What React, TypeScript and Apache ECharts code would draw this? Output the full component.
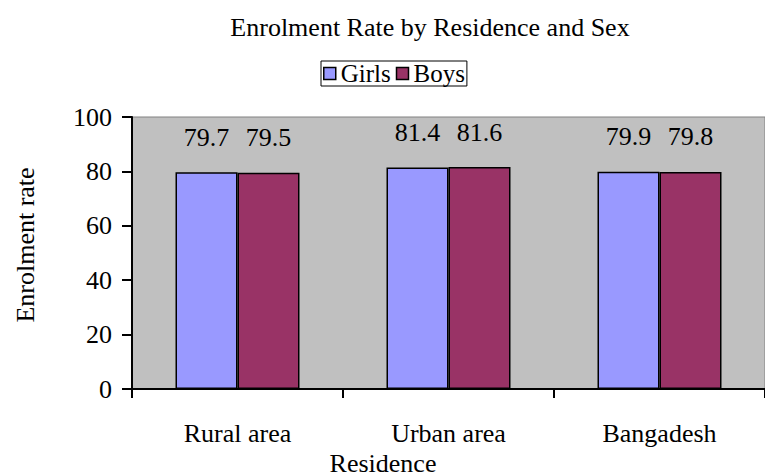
import React, { useEffect, useRef } from "react";
import * as echarts from "echarts";

const categories = ["Rural area", "Urban area", "Bangadesh"];
const girls = [79.7, 81.4, 79.9];
const boys = [79.5, 81.6, 79.8];
const yTicks = [0, 20, 40, 60, 80, 100];

const FONT = "Liberation Serif";

export default function App() {
  const ref = useRef<HTMLDivElement>(null);
  useEffect(() => {
    if (!ref.current) return;
    const chart = echarts.init(ref.current, undefined, { renderer: "svg" });
    const labelCfg = {
      show: true,
      position: "top" as const,
      distance: 22,
      fontFamily: FONT,
      fontSize: 26,
      color: "#000",
    };
    chart.setOption({
      animation: false,
      backgroundColor: "#fff",
      title: {
        text: "Enrolment Rate by Residence and Sex",
        left: 425,
        textAlign: "center",
        top: 9,
        textStyle: { fontFamily: FONT, fontSize: 26, fontWeight: "normal", color: "#000" },
      },
      legend: {
        top: 61,
        left: 321,
        data: ["Girls", "Boys"],
        icon: "rect",
        itemWidth: 12,
        itemHeight: 12,
        itemGap: 5,
        padding: [0, 2, 0, 2],
        borderColor: "#000",
        borderWidth: 1,
        borderRadius: 0,
        itemStyle: { borderColor: "#000", borderWidth: 1.5 },
        textStyle: { fontFamily: FONT, fontSize: 25, color: "#000" },
      },
      grid: {
        left: 132,
        width: 642,
        top: 117,
        bottom: 476 - 389,
        show: true,
        backgroundColor: "#c0c0c0",
        borderColor: "#808080",
        borderWidth: 1,
      },
      xAxis: {
        type: "category",
        data: categories,
        axisLine: { lineStyle: { color: "#000", width: 2 } },
        axisTick: { show: true, length: 9, lineStyle: { color: "#000", width: 2 } },
        axisLabel: { margin: 31, fontFamily: FONT, fontSize: 26, color: "#000" },
      },
      yAxis: {
        type: "value",
        min: yTicks[0],
        max: yTicks[yTicks.length - 1],
        interval: 20,
        axisLine: { show: true, lineStyle: { color: "#000", width: 2 } },
        axisTick: { show: true, length: 10, lineStyle: { color: "#000", width: 2 } },
        axisLabel: { margin: 20, fontFamily: FONT, fontSize: 26, color: "#000" },
        splitLine: { show: false },
      },
      graphic: [
        {
          type: "text",
          x: 383,
          y: 450,
          style: { text: "Residence", fontFamily: FONT, fontSize: 26, fill: "#000", textAlign: "center" },
        },
        {
          type: "text",
          x: 25,
          y: 245,
          rotation: Math.PI / 2,
          style: {
            text: "Enrolment rate",
            fontFamily: FONT,
            fontSize: 26,
            fill: "#000",
            textAlign: "center",
            textVerticalAlign: "middle",
          },
        },
      ],
      series: [
        {
          name: "Girls",
          type: "bar",
          data: girls,
          barWidth: 62,
          barGap: "0%",
          itemStyle: { color: "#9999ff", borderColor: "#000", borderWidth: 1.5 },
          label: labelCfg,
        },
        {
          name: "Boys",
          type: "bar",
          data: boys,
          barWidth: 62,
          barGap: "0%",
          itemStyle: { color: "#993366", borderColor: "#000", borderWidth: 1.5 },
          label: labelCfg,
        },
      ],
    });
    return () => chart.dispose();
  }, []);
  return <div ref={ref} style={{ width: 765, height: 476, position: "absolute", left: 0, top: 0 }} />;
}
